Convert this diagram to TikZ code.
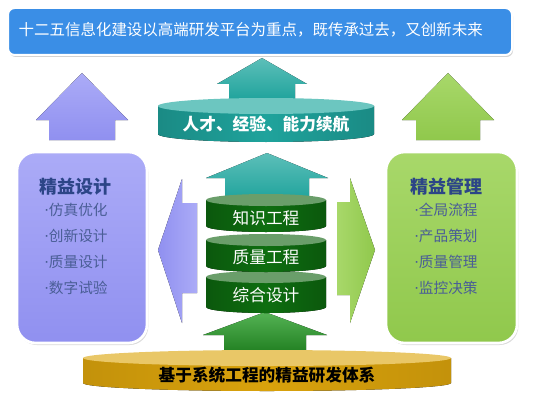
\documentclass[tikz,border=0pt]{standalone}
\usepackage{fontspec}
\setmainfont{Noto Sans CJK SC}
\newfontfamily\dotfont{DejaVu Sans}
\usetikzlibrary{shadows}
\definecolor{bannerblue}{HTML}{3A8EE6}
\definecolor{lavender}{HTML}{9090F0}
\definecolor{lavenderlight}{HTML}{ABABF7}
\definecolor{leaf}{HTML}{90C84C}
\definecolor{leaflight}{HTML}{A8D86A}
\definecolor{teal}{HTML}{1FA39C}
\definecolor{teallight}{HTML}{6CC6C0}
\definecolor{forest}{HTML}{0E6E10}
\definecolor{forestlight}{HTML}{6A9E6A}
\definecolor{grass}{HTML}{2AA02A}
\definecolor{gold}{HTML}{D9A20C}
\definecolor{goldlight}{HTML}{E9C767}
\definecolor{titleblue}{HTML}{2C4587}
\definecolor{itemblue}{HTML}{4A5E96}
\tikzset{
  banner/.style={fill=bannerblue, draw=white, line width=1.5pt, rounded corners=5pt,
                 drop shadow={opacity=0.35, shadow xshift=0.8pt, shadow yshift=-1.5pt}},
  panel/.style={draw=white, line width=2pt, rounded corners=14pt,
                drop shadow={opacity=0.3, shadow xshift=1pt, shadow yshift=-1.5pt}},
  paneltitle/.style={font=\fontsize{13.5}{15}\selectfont\bfseries, text=titleblue},
  paneltext/.style={font=\fontsize{11}{13}\selectfont, text=itemblue, anchor=west, inner sep=0pt},
  drumtext/.style={font=\fontsize{12.5}{14}\selectfont, text=white},
}
\newcommand{\itemdot}{{\dotfont\textperiodcentered}}
% cx, tip y, head half width, shaft half width, head base y, bottom y, fill options
\newcommand{\uparw}[7]{%
  \fill[#7] (#1,#2) -- ({#1+#3},#5) -- ({#1+#4},#5) -- ({#1+#4},#6)
    -- ({#1-#4},#6) -- ({#1-#4},#5) -- ({#1-#3},#5) -- cycle;}
% cx, top y, bottom y, x radius, y radius, body options, lid options
\newcommand{\drum}[7]{%
  \fill[#6] ({#1-#4},#2) -- ({#1-#4},#3) arc[start angle=180, end angle=0, x radius=#4, y radius=#5]
    -- ({#1+#4},#2) -- cycle;
  \fill[#7] (#1,#2) ellipse[x radius=#4, y radius=#5];}

\begin{document}
\begin{tikzpicture}[x=0.75pt, y=-0.75pt]
  \useasboundingbox (0,0) rectangle (555,406);

  % banner
  \path[banner] (8,8) rectangle (512,55);
  \node[anchor=west, text=white, font=\fontsize{11.6}{14}\selectfont] (goal) at (14,30)
    {十二五信息化建设以高端研发平台为重点，既传承过去，又创新未来};

  % arrows going up
  \uparw{82}{73}{46}{33}{120}{140}{top color=lavenderlight, bottom color=lavender}
  \uparw{448}{73}{46}{32}{120}{140}{top color=leaflight, bottom color=leaf}
  \uparw{262}{58}{45}{33}{84}{100}{top color=teallight!80!teal, bottom color=teal}
  \uparw{267}{153}{61}{42}{178}{200}{top color=teallight!80!teal, bottom color=teal}
  \uparw{265}{312}{62}{41}{335}{352}{top color=grass!80!white, bottom color=grass!80!black}

  % side arrows
  \fill[left color=lavender, right color=lavenderlight] (158,250) -- (182,179) -- (182,203) -- (197,203)
    -- (197,293) -- (182,293) -- (182,323) -- cycle;
  \fill[left color=leaflight, right color=leaf] (375,250) -- (350,178) -- (350,202) -- (337,202)
    -- (337,295) -- (350,295) -- (350,323) -- cycle;

  % drums
  \drum{266}{106}{134}{108}{8}{left color=teal!85!black, right color=teal!85!black, middle color=teal}{fill=teallight}
  \drum{267}{358}{383}{184}{8}{left color=gold!90!black, right color=gold!90!black, middle color=gold}{fill=goldlight}
  \drum{266}{277}{307}{60}{6}{left color=forest!80!black, right color=forest!80!black, middle color=forest}{fill=forestlight}
  \drum{266}{240}{266}{60}{6}{left color=forest!80!black, right color=forest!80!black, middle color=forest}{fill=forestlight}
  \drum{266}{200}{226}{60}{6}{left color=forest!80!black, right color=forest!80!black, middle color=forest}{fill=forestlight}

  \node[drumtext, font=\fontsize{12.5}{14}\selectfont\bfseries] (talent) at (266,124) {人才、经验、能力续航};
  \node[drumtext] (knowledge) at (266,218) {知识工程};
  \node[drumtext] (quality) at (266,257) {质量工程};
  \node[drumtext] (synth) at (266,295) {综合设计};
  \node[font=\fontsize{12.5}{14}\selectfont\bfseries, text=black] (base) at (267,375) {基于系统工程的精益研发体系};

  % panels
  \path[panel, top color=lavenderlight, bottom color=lavender] (17,152) rectangle (147,343);
  \path[panel, top color=leaflight, bottom color=leaf] (386,152) rectangle (517,343);

  \node[paneltitle] (design) at (75,187) {精益设计};
  \node[paneltext] (d1) at (44,210) {\itemdot 仿真优化};
  \node[paneltext] (d2) at (44,236) {\itemdot 创新设计};
  \node[paneltext] (d3) at (44,262) {\itemdot 质量设计};
  \node[paneltext] (d4) at (44,288) {\itemdot 数字试验};

  \node[paneltitle] (manage) at (446,187) {精益管理};
  \node[paneltext] (m1) at (414,210) {\itemdot 全局流程};
  \node[paneltext] (m2) at (414,236) {\itemdot 产品策划};
  \node[paneltext] (m3) at (414,262) {\itemdot 质量管理};
  \node[paneltext] (m4) at (414,288) {\itemdot 监控决策};
\end{tikzpicture}
\end{document}
